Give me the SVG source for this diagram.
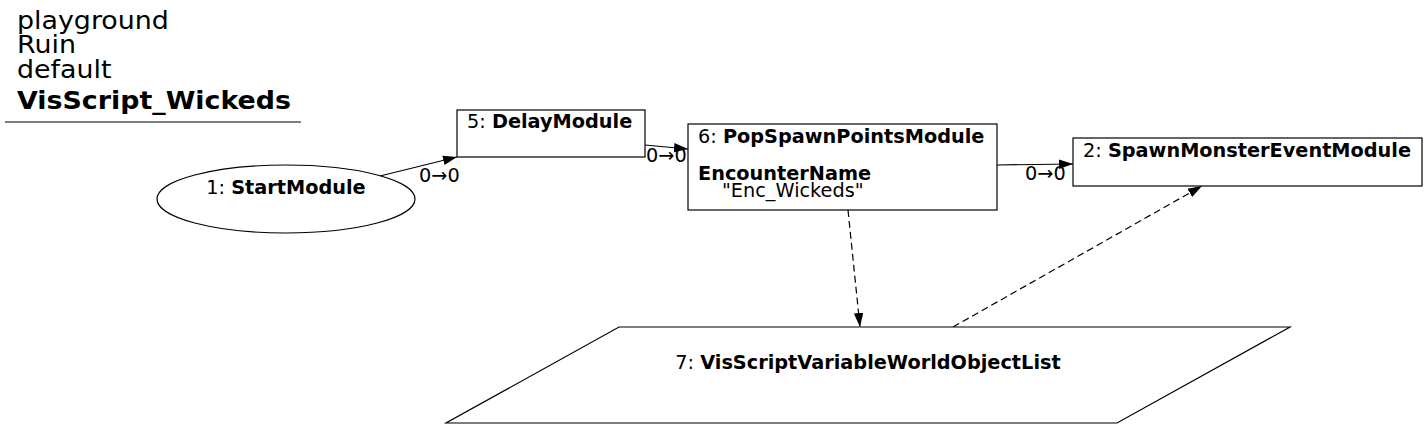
<svg xmlns="http://www.w3.org/2000/svg" width="1428" height="428" viewBox="0 0 1428 428">
<style>
text{font-family:"DejaVu Sans",sans-serif;font-size:19.3px;fill:#000}
.b{font-weight:bold}
.title{font-size:25px}
.node{fill:#fff;stroke:#000;stroke-width:1.2}
.edge{fill:none;stroke:#000;stroke-width:1.2}
.dash{stroke-dasharray:7,4}
</style>
<defs>
<marker id="arr" markerUnits="userSpaceOnUse" markerWidth="14" markerHeight="10" refX="14" refY="5" orient="auto">
<path d="M0,0.3 L14,5 L0,9.7 z" fill="#000"/>
</marker>
</defs>
<rect width="1428" height="428" fill="#fff"/>
<g id="title">
<g transform="scale(1.075,1)">
<text class="title" x="15.8" y="29">playground</text>
<text class="title" x="15.8" y="53">Ruin</text>
<text class="title" x="15.8" y="78">default</text>
<text class="title b" x="15.8" y="109">VisScript_Wickeds</text>
</g>
<line x1="5" y1="122" x2="301" y2="122" stroke="#000" stroke-width="1.2"/>
</g>
<g id="connectors">
<path class="edge" d="M380,176 L457,157" marker-end="url(#arr)"/>
<text x="419" y="182">0→0</text>
<path class="edge" d="M645,145 L688,149" marker-end="url(#arr)"/>
<text x="646" y="162">0→0</text>
<path class="edge" d="M997,165 L1073,164" marker-end="url(#arr)"/>
<text x="1025" y="180">0→0</text>
<path class="edge dash" d="M848,210 L860,327" marker-end="url(#arr)"/>
<path class="edge dash" d="M953,327 L1202,186" marker-end="url(#arr)"/>
</g>
<g id="node1">
<ellipse class="node" cx="286" cy="199" rx="129" ry="34"/>
<text x="286" y="194" text-anchor="middle">1: <tspan class="b">StartModule</tspan></text>
</g>
<g id="node5">
<rect class="node" x="457" y="110" width="188" height="47"/>
<text x="467" y="128">5: <tspan class="b">DelayModule</tspan></text>
</g>
<g id="node6">
<rect class="node" x="688" y="124" width="309" height="86"/>
<text x="698" y="143">6: <tspan class="b">PopSpawnPointsModule</tspan></text>
<text class="b" x="698" y="180">EncounterName</text>
<text x="722" y="197">"Enc_Wickeds"</text>
</g>
<g id="node2">
<rect class="node" x="1073" y="138" width="349" height="48"/>
<text x="1083" y="157">2: <tspan class="b">SpawnMonsterEventModule</tspan></text>
</g>
<g id="node7">
<polygon class="node" points="619,327 1290,327 1117,423 446,423"/>
<text x="868" y="369" text-anchor="middle">7: <tspan class="b">VisScriptVariableWorldObjectList</tspan></text>
</g>
</svg>
